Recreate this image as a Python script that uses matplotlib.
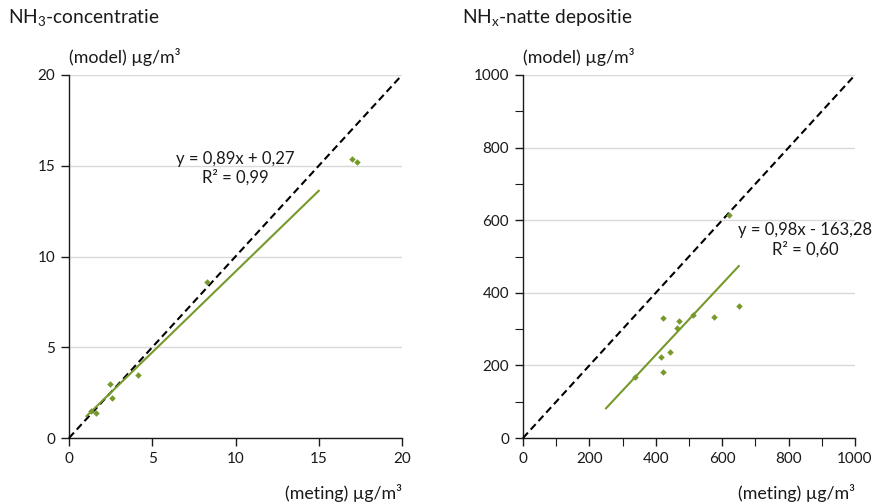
import matplotlib
matplotlib.use("Agg")
import matplotlib.pyplot as plt
from matplotlib.ticker import MultipleLocator

plt.rcParams['font.family'] = ['Lato', 'DejaVu Sans']
plt.rcParams['mathtext.fontset'] = 'custom'
plt.rcParams['mathtext.rm'] = 'Lato'

GREEN = '#76992c'

# NH3-concentratie (ug/m3)
conc_meting = [1.35, 1.65, 2.45, 2.6, 4.15, 8.3, 17.0, 17.3]
conc_model = [1.5, 1.4, 3.0, 2.2, 3.47, 8.6, 15.37, 15.2]
conc_fit = (0.89, 0.27)
conc_fit_range = [1.05, 15.0]
conc_ticks = [0, 5, 10, 15, 20]

# NHx-natte depositie
dep_meting = [337, 417, 421, 423, 444, 463, 470, 513, 576, 620, 650]
dep_model = [169, 222, 330, 181, 237, 302, 322, 340, 333, 613, 365]
dep_fit = (0.98, -163.28)
dep_fit_range = [250, 650]
dep_ticks = [0, 200, 400, 600, 800, 1000]

fig = plt.figure(figsize=(8.75, 5.04), dpi=100)
ax1 = fig.add_axes([69 / 875, 1 - 438 / 504, 333 / 875, 363 / 504])
ax2 = fig.add_axes([523 / 875, 1 - 438 / 504, 332 / 875, 363 / 504])


def style(ax, lim, ticks, minor=None):
    ax.set_xlim(0, lim)
    ax.set_ylim(0, lim)
    ax.set_xticks(ticks)
    ax.set_yticks(ticks)
    if minor:
        ax.xaxis.set_minor_locator(MultipleLocator(minor))
        ax.yaxis.set_minor_locator(MultipleLocator(minor))
    for s in ['top', 'right']:
        ax.spines[s].set_visible(False)
    for s in ['left', 'bottom']:
        ax.spines[s].set_linewidth(1.0)
        ax.spines[s].set_color('#1a1a1a')
    ax.tick_params(which='major', direction='out', length=6, width=1,
                   labelsize=11, colors='#1a1a1a', pad=4)
    ax.tick_params(which='minor', direction='out', length=6, width=0.8,
                   colors='#1a1a1a')
    ax.grid(axis='y', which='major', color='#d9d9d9', linewidth=1)
    ax.set_axisbelow(True)
    ax.plot([0, lim], [0, lim], color='black', linestyle=(0, (3.5, 2)),
            linewidth=1.5, zorder=3, clip_on=False)


style(ax1, 20, conc_ticks)
style(ax2, 1000, dep_ticks, minor=100)

# fit lines
for ax, (a, b), rng in [(ax1, conc_fit, conc_fit_range), (ax2, dep_fit, dep_fit_range)]:
    ax.plot(rng, [a * rng[0] + b, a * rng[1] + b], color=GREEN, linewidth=1.5, zorder=4)

ax1.scatter(conc_meting, conc_model, marker='D', s=11, color=GREEN, zorder=5, linewidths=0)
ax2.scatter(dep_meting, dep_model, marker='D', s=11, color=GREEN, zorder=5, linewidths=0)

ax1.text(10.0, 14.85, 'y = 0,89x + 0,27\nR² = 0,99', ha='center', va='center',
         fontsize=12, linespacing=1.2, color='#1a1a1a')
ax2.text(850, 546, 'y = 0,98x - 163,28\nR² = 0,60', ha='center', va='center',
         fontsize=12, linespacing=1.2, color='#1a1a1a')

# titles and axis labels
fig.text(8 / 875, 1 - 18 / 504, r'NH$_\mathregular{3}$-concentratie', fontsize=13.8,
         va='center', ha='left', color='#1a1a1a')
fig.text(462 / 875, 1 - 18 / 504, r'NH$_\mathregular{x}$-natte depositie', fontsize=13.8,
         va='center', ha='left', color='#1a1a1a')
for x in [69, 523]:
    fig.text(x / 875, 1 - 57 / 504, '(model) µg/m³', fontsize=12.8, va='center',
             ha='left', color='#1a1a1a')
for x in [402, 855]:
    fig.text(x / 875, 1 - 493 / 504, '(meting) µg/m³', fontsize=12.8, va='center',
             ha='right', color='#1a1a1a')

fig.savefig('out.png', dpi=100)
